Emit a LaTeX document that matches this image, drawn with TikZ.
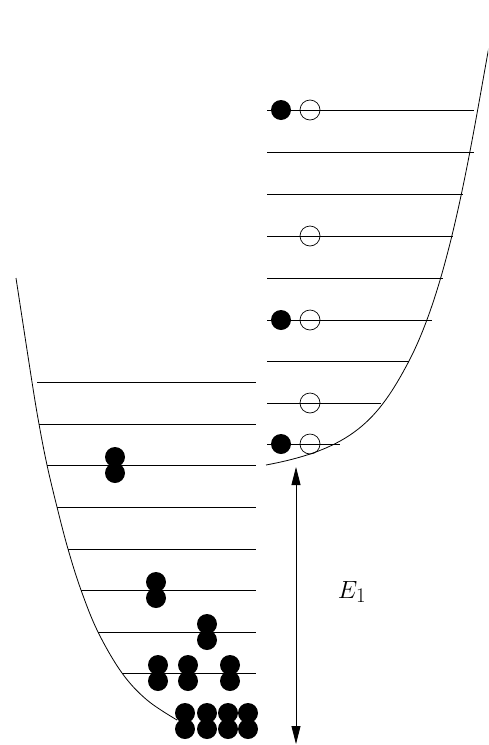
\documentclass[tikz,border=0pt]{standalone}
\usetikzlibrary{arrows.meta}
\begin{document}
\begin{tikzpicture}[x=1pt,y=-1pt,
  wall/.style={line width=0.8pt},
  level/.style={line width=0.8pt},
  fdot/.style={circle,fill=black,inner sep=0pt,minimum size=20pt},
  hdot/.style={circle,draw=black,line width=0.7pt,inner sep=0pt,minimum size=20pt},
  gap/.style={line width=0.8pt,{Triangle[length=18pt,width=9pt]}-{Triangle[length=18pt,width=9pt]}},
  lab/.style={font=\fontsize{28}{30}\selectfont}]
\useasboundingbox (0,0) rectangle (488,745);
\begin{scope}
\clip (0,0) rectangle (488,745);
% left well
\draw[wall] plot[smooth,tension=0.6] coordinates {(16,278) (32,382) (39,424) (47,465) (57,507) (68,549) (81,590) (98,632) (122,673) (147,700) (177,720)};
\foreach \xs/\y in {37/382,39/424,47/465,57/507,68/549,81/590,98/632,122/673}
  \draw[level] (\xs,\y) -- (256,\y);
% right well
\draw[wall] (266,465) .. controls (352,449) and (378,420) .. (409,361)
                      .. controls (449,284) and (470,152) .. (488,52)
                      -- (492,30);
\foreach \xe/\y in {474/110,474/152,463/194,453/236,443/278,432/320,409/361,381/403,340/444}
  \draw[level] (267,\y) -- (\xe,\y);
\end{scope}
% left electrons (pairs)
\foreach \n/\x/\y in {p1/115/465,p2/156/590,p3/207/632,p4/158/673,p5/188/673,p6/230/673,p7/185/721,p8/207/721,p9/228/721,p10/248/721}{
  \node[fdot] (\n a) at (\x,\y-8) {};
  \node[fdot] (\n b) at (\x,\y+8) {};
}
% right electrons and holes
\node[fdot] (e1) at (281,110) {};
\node[hdot] (h1) at (310,110) {};
\node[hdot] (h2) at (310,236) {};
\node[fdot] (e2) at (281,320) {};
\node[hdot] (h3) at (310,320) {};
\node[hdot] (h4) at (310,403) {};
\node[fdot] (e3) at (281,444) {};
\node[hdot] (h5) at (310,444) {};
% energy gap arrow
\coordinate (gtop) at (296,467);
\coordinate (gbot) at (296,744);
\draw[gap] (gtop) -- (gbot);
\node[lab] (E1) at (352,592) {$E_1$};
\end{tikzpicture}
\end{document}
